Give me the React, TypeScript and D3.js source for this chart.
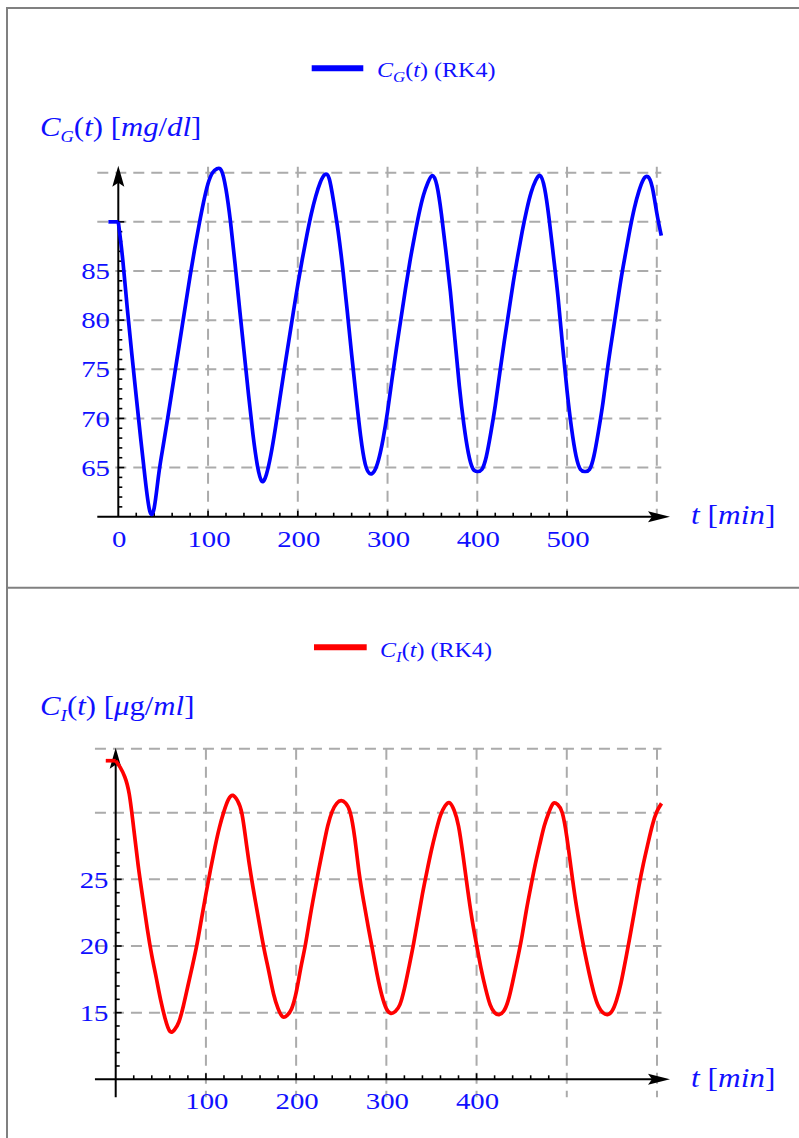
import React from "react";
import * as d3 from "d3";

// Delay-model simulation output (RK4), sampled every 5 min; the constant
// history value is held for t < 0.
const historyStart = -11;
const sampleTimes = d3.range(0, 606, 5);

const glucoseHistory = 90;
const glucose = [
  90, 86.1, 81.2, 76.6, 72.2, 67.9, 63.8, 60.6, 60.9, 64.3,
  67.2, 70.0, 72.9, 75.8, 78.7, 81.6, 84.5, 87.2, 89.7, 92.0,
  93.9, 95.0, 95.4, 95.2, 93.3, 90.0, 85.8, 81.3, 76.9, 72.5,
  68.4, 65.2, 63.6, 64.3, 66.3, 69.0, 72.0, 75.0, 77.9, 80.8,
  83.6, 86.2, 88.6, 90.8, 92.6, 94.0, 94.8, 94.4, 92.0, 89.0,
  85.3, 81.0, 76.5, 72.2, 68.2, 65.4, 64.4, 64.6, 65.8, 67.9,
  70.7, 74.0, 77.2, 80.2, 83.2, 86.0, 88.5, 90.8, 92.7, 94.0,
  94.7, 93.7, 90.8, 87.0, 82.9, 78.1, 73.3, 69.4, 66.5, 64.9,
  64.6, 64.8, 66.1, 68.5, 71.3, 74.6, 77.8, 80.8, 83.8, 86.5,
  89.0, 91.2, 93.0, 94.2, 94.7, 93.4, 90.3, 86.4, 82.3, 77.4,
  72.8, 69.0, 66.2, 64.8, 64.6, 64.8, 66.2, 68.7, 71.6, 75.0,
  78.1, 81.1, 84.1, 86.7, 89.2, 91.4, 93.1, 94.3, 94.6, 93.5,
  90.9, 88.6,
];

const insulinHistory = 33.9;
const insulin = [
  33.9, 33.4, 32.7, 31.4, 28.8, 26.0, 23.6, 21.3, 19.3, 17.6,
  15.9, 14.5, 13.6, 13.7, 14.3, 15.5, 17.0, 18.5, 20.1, 22.0,
  23.9, 25.7, 27.4, 28.9, 30.1, 31.0, 31.3, 30.9, 29.9, 27.6,
  25.3, 23.3, 21.4, 19.6, 18.0, 16.4, 15.3, 14.7, 14.8, 15.3,
  16.5, 18.3, 20.0, 22.0, 23.9, 25.7, 27.4, 29.0, 30.1, 30.7,
  30.9, 30.7, 30.0, 28.1, 25.4, 23.3, 21.4, 19.6, 17.8, 16.3,
  15.3, 14.95, 15.1, 15.6, 16.8, 18.4, 20.1, 22.0, 23.9, 25.6,
  27.2, 28.6, 29.8, 30.5, 30.75, 30.2, 29.0, 26.8, 24.3, 22.0,
  20.1, 18.3, 16.8, 15.6, 15.0, 14.85, 15.1, 15.9, 17.3, 18.9,
  20.6, 22.6, 24.4, 26.1, 27.6, 29.0, 30.0, 30.7, 30.6, 30.0,
  28.2, 25.7, 23.3, 21.3, 19.5, 17.9, 16.5, 15.5, 15.0, 14.85,
  15.1, 15.9, 17.2, 18.9, 20.7, 22.6, 24.5, 26.2, 27.7, 29.1,
  30.1, 30.7,
];

// Axis ticks and grid
const glucoseYLabels = [65, 70, 75, 80, 85];
const glucoseXLabels = [0, 100, 200, 300, 400, 500];
const glucoseGridY = [65, 70, 75, 80, 85, 90, 95];
const insulinYLabels = [15, 20, 25];
const insulinXLabels = [100, 200, 300, 400];
const insulinGridY = [15, 20, 25, 30, 34.8];
const gridX = [100, 200, 300, 400, 500, 600];

const SERIF = "'Liberation Serif', 'Times New Roman', serif";
const TEXT_BLUE = "#1010ff";
const GRID = "#ababab";
// the label face is set a little wider than Liberation Serif's
const TICK_STRETCH = 1.2;
const LABEL_STRETCH = 1.12;

function Wide({
  x,
  y,
  sx,
  children,
  ...rest
}: {
  x: number;
  y: number;
  sx: number;
  children: React.ReactNode;
  [k: string]: any;
}) {
  return (
    <g transform={`translate(${x},${y}) scale(${sx},1)`}>
      <text x={0} y={0} fontFamily={SERIF} fill={TEXT_BLUE} {...rest}>
        {children}
      </text>
    </g>
  );
}

type PanelProps = {
  x: d3.ScaleLinear<number, number>;
  y: d3.ScaleLinear<number, number>;
  tMin: number;
  tMax: number;
  yMin: number;
  yTop: number;
  yAxisAt: number;
  gridY: number[];
  yLabels: number[];
  xLabels: number[];
  yMinorFrom: number;
  yMinorTo: number;
  yMajorStep: number;
  xTickTo: number;
  xMajorTo: number;
  values: number[];
  history: number;
  color: string;
  yLabelRight: number;
  xLabelBaseline: number;
};

function Panel(p: PanelProps) {
  const { x, y } = p;
  const x0 = x(0);
  const yAxisY = y(p.yAxisAt);
  const pts: [number, number][] = sampleTimes.map((t, i) => [t, p.values[i]]);
  const line = d3
    .line<[number, number]>()
    .x((d) => x(d[0]))
    .y((d) => y(d[1]))
    .curve(d3.curveNatural);
  const histLine = d3
    .line<[number, number]>()
    .x((d) => x(d[0]))
    .y((d) => y(d[1]));

  const yTicks = d3.range(p.yMinorFrom, p.yMinorTo + 1, 1);
  const xTicks = d3.range(20, p.xTickTo + 1, 20);
  const tipY = y(p.yTop) - 1;
  const tipX = 670;

  return (
    <g>
      {p.gridY.map((v) => (
        <line
          key={"gy" + v}
          x1={x(p.tMin)}
          x2={x(p.tMax)}
          y1={y(v)}
          y2={y(v)}
          stroke={GRID}
          strokeWidth={2}
          strokeDasharray="11,7"
        />
      ))}
      {gridX.map((t) => (
        <line
          key={"gx" + t}
          x1={x(t)}
          x2={x(t)}
          y1={y(p.yTop)}
          y2={y(p.yMin)}
          stroke={GRID}
          strokeWidth={2}
          strokeDasharray="11,7"
        />
      ))}

      <line x1={x(p.tMin)} x2={tipX - 16} y1={yAxisY} y2={yAxisY} stroke="#000" strokeWidth={2} />
      <line x1={x0} x2={x0} y1={y(p.yMin)} y2={tipY + 16} stroke="#000" strokeWidth={2} />
      <path
        d={`M${tipX},${yAxisY} L${tipX - 22},${yAxisY - 5.5} L${tipX - 18},${yAxisY} L${tipX - 22},${yAxisY + 5.5} Z`}
        fill="#000"
      />
      <path
        d={`M${x0},${tipY} L${x0 - 6},${tipY + 21} L${x0},${tipY + 17} L${x0 + 6},${tipY + 21} Z`}
        fill="#000"
      />

      {yTicks.map((v) => (
        <line
          key={"yt" + v}
          x1={x0}
          x2={x0 + (v % p.yMajorStep === 0 ? 6 : 4)}
          y1={y(v)}
          y2={y(v)}
          stroke="#000"
          strokeWidth={1.6}
        />
      ))}
      {xTicks.map((t) => (
        <line
          key={"xt" + t}
          x1={x(t)}
          x2={x(t)}
          y1={yAxisY}
          y2={yAxisY - (t % 100 === 0 && t <= p.xMajorTo ? 6 : 4)}
          stroke="#000"
          strokeWidth={1.6}
        />
      ))}

      {p.yLabels.map((v) => (
        <Wide key={"yl" + v} x={p.yLabelRight} y={y(v) + 8.2} sx={TICK_STRETCH} textAnchor="end" fontSize={24}>
          {v}
        </Wide>
      ))}
      {p.xLabels.map((t) => (
        <Wide key={"xl" + t} x={x(t) + 1} y={p.xLabelBaseline} sx={TICK_STRETCH} textAnchor="middle" fontSize={24}>
          {t}
        </Wide>
      ))}

      <path
        d={histLine([
          [historyStart, p.history],
          [0, p.history],
        ]) as string}
        fill="none"
        stroke={p.color}
        strokeWidth={3.7}
      />
      <path
        d={line(pts) as string}
        fill="none"
        stroke={p.color}
        strokeWidth={3.7}
        strokeLinejoin="round"
      />
    </g>
  );
}

export default function App() {
  const W = 799;
  const H = 1138;

  const xG = d3.scaleLinear().domain([0, 600]).range([118.3, 656.8]);
  const yG = d3.scaleLinear().domain([60, 95]).range([516.7, 172.7]);
  const xI = d3.scaleLinear().domain([0, 600]).range([115.7, 657]);
  const yI = d3.scaleLinear().domain([10, 30]).range([1079.3, 812.7]);

  return (
    <svg
      width={W}
      height={H}
      viewBox={`0 0 ${W} ${H}`}
      style={{ position: "absolute", left: 0, top: 0, background: "#fff" }}
    >
      <rect x={0} y={0} width={W} height={H} fill="#fff" />
      <line x1={7} x2={W} y1={8} y2={8} stroke="#808080" strokeWidth={2} />
      <line x1={7} x2={7} y1={7} y2={H} stroke="#808080" strokeWidth={2} />
      <line x1={7} x2={W} y1={587.7} y2={587.7} stroke="#808080" strokeWidth={2} />

      {/* glucose panel */}
      <line x1={311.7} x2={363.3} y1={68.3} y2={68.3} stroke="#0000ff" strokeWidth={6} />
      <Wide x={377} y={76.5} sx={LABEL_STRETCH} fontSize={21.5}>
        <tspan fontStyle="italic">C</tspan>
        <tspan fontStyle="italic" fontSize={15} dy={5}>G</tspan>
        <tspan dy={-5}>(</tspan>
        <tspan fontStyle="italic">t</tspan>
        <tspan>{") (RK4)"}</tspan>
      </Wide>
      <Wide x={40} y={136} sx={LABEL_STRETCH} fontSize={27.5}>
        <tspan fontStyle="italic">C</tspan>
        <tspan fontStyle="italic" fontSize={16.5} dy={6}>G</tspan>
        <tspan dy={-6}>(</tspan>
        <tspan fontStyle="italic">t</tspan>
        <tspan>{") ["}</tspan>
        <tspan fontStyle="italic">mg</tspan>
        <tspan>/</tspan>
        <tspan fontStyle="italic">dl</tspan>
        <tspan>]</tspan>
      </Wide>
      <Wide x={691} y={523.5} sx={LABEL_STRETCH} fontSize={28}>
        <tspan fontStyle="italic">t</tspan>
        <tspan>{" ["}</tspan>
        <tspan fontStyle="italic">min</tspan>
        <tspan>]</tspan>
      </Wide>
      <Panel
        x={xG}
        y={yG}
        tMin={-23.4}
        tMax={605}
        yMin={60}
        yTop={95.6}
        yAxisAt={60}
        gridY={glucoseGridY}
        yLabels={glucoseYLabels}
        xLabels={glucoseXLabels}
        yMinorFrom={61}
        yMinorTo={90}
        yMajorStep={5}
        xTickTo={500}
        xMajorTo={500}
        values={glucose}
        history={glucoseHistory}
        color="#0000ff"
        yLabelRight={110}
        xLabelBaseline={546.5}
      />

      {/* insulin panel */}
      <line x1={314} x2={366.7} y1={647.3} y2={647.3} stroke="#ff0000" strokeWidth={6} />
      <Wide x={380} y={656.5} sx={LABEL_STRETCH} fontSize={21.5}>
        <tspan fontStyle="italic">C</tspan>
        <tspan fontStyle="italic" fontSize={15} dy={5}>I</tspan>
        <tspan dy={-5}>(</tspan>
        <tspan fontStyle="italic">t</tspan>
        <tspan>{") (RK4)"}</tspan>
      </Wide>
      <Wide x={40} y={714.5} sx={LABEL_STRETCH} fontSize={27.5}>
        <tspan fontStyle="italic">C</tspan>
        <tspan fontStyle="italic" fontSize={17} dy={6}>I</tspan>
        <tspan dy={-6}>(</tspan>
        <tspan fontStyle="italic">t</tspan>
        <tspan>{") ["}</tspan>
        <tspan fontStyle="italic">μ</tspan>
        <tspan>g/</tspan>
        <tspan fontStyle="italic">ml</tspan>
        <tspan>]</tspan>
      </Wide>
      <Wide x={691} y={1087} sx={LABEL_STRETCH} fontSize={28}>
        <tspan fontStyle="italic">t</tspan>
        <tspan>{" ["}</tspan>
        <tspan fontStyle="italic">min</tspan>
        <tspan>]</tspan>
      </Wide>
      <Panel
        x={xI}
        y={yI}
        tMin={-23}
        tMax={605}
        yMin={8.65}
        yTop={34.8}
        yAxisAt={10}
        gridY={insulinGridY}
        yLabels={insulinYLabels}
        xLabels={insulinXLabels}
        yMinorFrom={11}
        yMinorTo={28}
        yMajorStep={5}
        xTickTo={480}
        xMajorTo={400}
        values={insulin}
        history={insulinHistory}
        color="#ff0000"
        yLabelRight={108.5}
        xLabelBaseline={1109}
      />
    </svg>
  );
}
